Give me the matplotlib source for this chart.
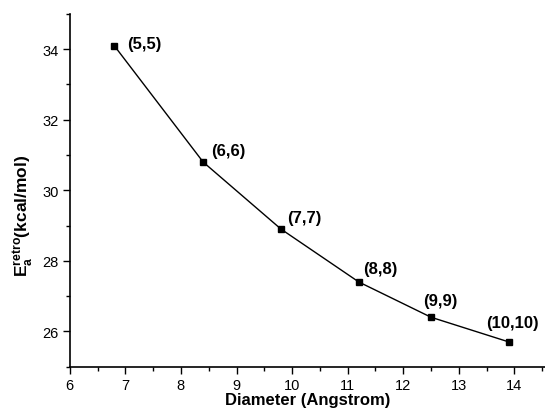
import matplotlib
matplotlib.use('Agg')
import matplotlib.pyplot as plt
from matplotlib.ticker import MultipleLocator

plt.rcParams['font.family'] = ['Liberation Sans', 'DejaVu Sans']
plt.rcParams['mathtext.fontset'] = 'custom'
plt.rcParams['mathtext.rm'] = 'Liberation Sans'
plt.rcParams['mathtext.bf'] = 'Liberation Sans:bold'

# nanotube diameter vs retro activation energy
diameter = [6.8, 8.4, 9.8, 11.2, 12.5, 13.9]
energy = [34.1, 30.8, 28.9, 27.4, 26.4, 25.7]
tube_labels = ['(5,5)', '(6,6)', '(7,7)', '(8,8)', '(9,9)', '(10,10)']
# label offsets in pixels (dx, dy)
offsets = [(13, 2), (8, 12), (6, 12), (4, 13), (-8, 17), (-23, 19)]

fig = plt.figure(figsize=(5.45, 4.14), dpi=100)
ax = fig.add_axes([0.128, 0.112, 0.872, 0.852])

ax.plot(diameter, energy, '-', color='black', linewidth=1.0,
        marker='s', markersize=5, markerfacecolor='black')

for x, y, lab, (dx, dy) in zip(diameter, energy, tube_labels, offsets):
    ax.annotate(lab, (x, y), xytext=(dx, dy), textcoords='offset pixels',
                ha='left', va='center', fontsize=12, fontweight='bold')

ax.set_xlim(6, 14.55)
ax.set_ylim(25, 35)
ax.xaxis.set_major_locator(MultipleLocator(1))
ax.xaxis.set_minor_locator(MultipleLocator(0.5))
ax.yaxis.set_minor_locator(MultipleLocator(1))
ax.set_yticks([26, 28, 30, 32, 34])

ax.spines['top'].set_visible(False)
ax.spines['right'].set_visible(False)
ax.spines['left'].set_linewidth(1.2)
ax.spines['bottom'].set_linewidth(1.2)
ax.tick_params(which='major', direction='out', length=5, width=1, labelsize=10.5, pad=3)
ax.tick_params(which='minor', direction='out', length=3, width=1)

ax.set_xlabel('Diameter (Angstrom)', fontsize=12, fontweight='bold', labelpad=0)
ax.set_ylabel(r'$\mathbf{E_a^{retro}}$(kcal/mol)', fontsize=12.5, fontweight='bold')
ax.yaxis.set_label_coords(-0.07, 0.43)

fig.savefig('out.png', dpi=100)
